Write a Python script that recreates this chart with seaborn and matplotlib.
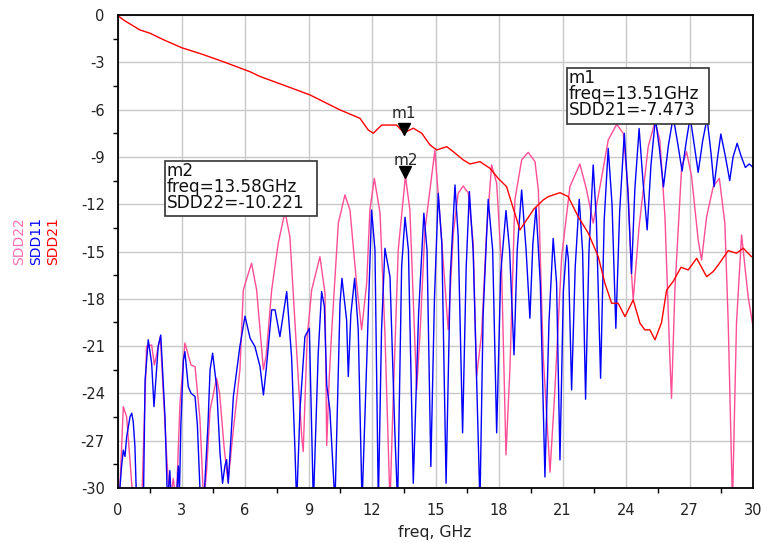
import numpy as np
import pandas as pd
import matplotlib
matplotlib.use("Agg")
import matplotlib.pyplot as plt
import seaborn as sns
from matplotlib.transforms import offset_copy
from matplotlib.ticker import MultipleLocator
from matplotlib.patches import Rectangle

# ==========================
# Data (freq in GHz, value in dB)
# ==========================
f21 = [0.0, 0.3, 1.04, 1.5, 2.2, 3.0, 4.0, 4.97, 6.24, 6.71, 7.81, 9.07, 10.49,
       11.43, 11.82, 12.06, 12.46, 13.16, 13.51, 13.95, 14.35, 14.74, 15.05,
       15.53, 15.84, 16.31, 16.63, 17.10, 17.57, 17.96, 18.36, 18.52, 18.99,
       19.65, 20.09, 20.33, 20.88, 21.27, 21.74, 22.22, 22.69, 23.0, 23.32,
       23.63, 23.95, 24.34, 24.66, 24.89, 25.13, 25.37, 25.68, 25.92, 26.23,
       26.6, 26.94, 27.34, 27.81, 28.12, 28.36, 28.83, 29.22, 29.54, 29.93]
sdd21 = [-0.05, -0.35, -0.95, -1.15, -1.6, -2.07, -2.5, -2.96, -3.6, -3.9,
         -4.44, -5.07, -6.02, -6.55, -7.29, -7.5, -6.98, -6.98, -7.47, -7.18,
         -7.5, -8.24, -8.56, -8.35, -8.67, -9.19, -9.45, -9.30, -9.72, -10.36,
         -10.89, -11.6, -13.63, -12.3, -11.73, -11.52, -11.27, -11.52, -12.79,
         -13.84, -15.33, -17.0, -18.28, -18.28, -19.13, -18.07, -19.55, -19.97,
         -19.97, -20.6, -19.5, -17.44, -16.9, -16.0, -16.17, -15.43, -16.6,
         -16.27, -15.85, -14.94, -15.11, -14.79, -15.33]

f22 = [0.0, 0.09, 0.25, 0.41, 0.72, 1.12, 1.35, 1.59, 1.72, 2.0, 2.3, 2.45,
       2.61, 2.75, 2.93, 3.16, 3.45, 3.64, 3.87, 4.05, 4.19, 4.35, 4.66, 4.8,
       5.01, 5.13, 5.2, 5.45, 5.76, 5.92, 6.16, 6.31, 6.55, 6.79, 6.87, 7.0,
       7.26, 7.57, 7.89, 8.12, 8.44, 8.68, 8.75, 8.94, 9.15, 9.54, 9.78, 9.86,
       9.98, 10.09, 10.41, 10.72, 10.96, 11.27, 11.51, 11.75, 11.9, 12.11,
       12.38, 12.61, 12.85, 13.0, 13.24, 13.58, 13.79, 14.11, 14.27, 14.5,
       14.97, 15.21, 15.6, 15.84, 16.07, 16.31, 16.55, 16.78, 16.94, 17.18,
       17.41, 17.65, 17.89, 18.12, 18.33, 18.52, 18.75, 19.07, 19.38, 19.7,
       19.86, 20.09, 20.41, 20.64, 20.96, 21.35, 21.82, 22.14, 22.45, 22.77,
       23.16, 23.56, 23.87, 24.1, 24.26, 24.34, 24.62, 25.05, 25.37, 25.6,
       25.84, 26.07, 26.15, 26.31, 26.63, 26.86, 27.1, 27.41, 27.57, 27.81,
       28.12, 28.41, 28.67, 28.83, 29.03, 29.22, 29.46, 29.62, 29.77, 30.0]
sdd22 = [-31, -30, -24.84, -25.5, -31, -31, -21.0, -20.93, -22.2, -20.4, -28,
         -31, -29.4, -31, -24.6, -20.8, -22.2, -22.3, -25.6, -31, -28.85,
         -25.05, -23.04, -24.0, -27.37, -28.85, -29.6, -26.3, -22.5, -17.44,
         -16.38, -15.75, -17.44, -21.24, -22.5, -21.6, -17.44, -14.48, -12.47,
         -14.06, -21.24, -26.74, -27.69, -20.4, -17.44, -15.33, -17.65, -27.3,
         -23.0, -20.2, -13.2, -11.41, -12.37, -17.0, -19.97, -17.0, -12.37,
         -10.36, -12.57, -20.18, -31, -24.4, -14.9, -10.22, -12.37, -23.78,
         -20.18, -13.63, -8.6, -12.79, -19.97, -13.84, -11.31, -10.84, -11.3,
         -14.48, -22.93, -20.18, -13.84, -9.51, -10.67, -15.96, -27.9, -22.3,
         -11.73, -9.19, -8.71, -9.3, -11.1, -21.67, -29.0, -23.78, -15.33,
         -10.89, -9.45, -11.1, -13.2, -10.89, -7.93, -6.93, -7.5, -11.1,
         -16.38, -18.07, -13.4, -8.35, -6.76, -7.93, -12.79, -21.67, -24.31,
         -17.44, -9.62, -8.67, -10.25, -14.27, -15.54, -12.79, -10.89, -10.36,
         -13.2, -19.55, -31, -19.55, -13.95, -16.0, -17.86, -19.76]

f11 = [0.05, 0.09, 0.17, 0.25, 0.33, 0.41, 0.57, 0.65, 0.72, 0.8, 0.88, 1.2,
       1.28, 1.43, 1.59, 1.7, 1.9, 2.02, 2.22, 2.34, 2.45, 2.52, 2.75, 2.85,
       2.9, 2.97, 3.09, 3.16, 3.32, 3.45, 3.64, 3.75, 3.9, 4.05, 4.25, 4.35,
       4.47, 4.66, 4.82, 4.94, 5.05, 5.13, 5.21, 5.45, 5.76, 6.0, 6.24, 6.47,
       6.71, 6.87, 7.0, 7.26, 7.42, 7.65, 7.97, 8.2, 8.36, 8.44, 8.6, 8.83,
       9.04, 9.23, 9.46, 9.62, 9.75, 9.86, 10.01, 10.25, 10.49, 10.58, 10.8,
       10.88, 11.0, 11.18, 11.35, 11.53, 11.75, 11.98, 12.14, 12.3, 12.45,
       12.61, 12.85, 13.08, 13.21, 13.4, 13.56, 13.72, 13.95, 14.2, 14.45,
       14.6, 14.78, 14.95, 15.13, 15.3, 15.5, 15.7, 15.92, 16.07, 16.28,
       16.45, 16.6, 16.78, 17.1, 17.25, 17.49, 17.7, 17.89, 18.08, 18.33,
       18.5, 18.71, 18.86, 19.07, 19.28, 19.46, 19.6, 19.75, 19.95, 20.17,
       20.36, 20.56, 20.72, 20.88, 21.04, 21.2, 21.28, 21.43, 21.6, 21.79,
       21.95, 22.09, 22.25, 22.45, 22.6, 22.8, 22.97, 23.16, 23.34, 23.52,
       23.7, 23.92, 24.1, 24.26, 24.42, 24.62, 24.8, 25.0, 25.18, 25.39,
       25.58, 25.77, 26.0, 26.23, 26.45, 26.65, 26.85, 27.03, 27.22, 27.41,
       27.62, 27.83, 28.02, 28.16, 28.33, 28.48, 28.7, 28.9, 29.06, 29.25,
       29.45, 29.64, 29.82, 30.0]
sdd11 = [-31, -30, -28.6, -27.6, -28.0, -26.74, -25.47, -25.26, -25.8, -27.37,
         -31, -31, -23.15, -20.6, -22.1, -24.84, -21.0, -20.3, -25.5, -31,
         -28.9, -31, -31, -28.6, -30.5, -26.0, -21.88, -21.35, -23.57, -23.99,
         -24.2, -26.0, -31, -31, -26.0, -22.5, -21.45, -23.57, -27.8, -29.7,
         -28.6, -28.2, -29.7, -24.2, -21.0, -19.1, -20.5, -21.03, -22.3, -24.1,
         -22.5, -18.7, -18.7, -20.4, -17.54, -21.67, -27.58, -31, -25.0, -20.4,
         -19.87, -31, -21.45, -17.54, -18.5, -23.46, -25.05, -31, -18.28, -16.7,
         -19.34, -22.93, -19.0, -16.7, -19.97, -31, -22.0, -12.37, -14.9, -31,
         -20.0, -14.8, -16.6, -26.5, -31, -15.96, -12.83, -14.9, -29.7, -19.0,
         -12.57, -14.9, -28.64, -18.0, -11.31, -14.5, -29.7, -16.5, -10.78,
         -14.0, -26.5, -16.0, -11.2, -15.0, -31, -19.0, -11.69, -14.9, -26.5,
         -16.4, -12.4, -14.9, -21.56, -14.9, -11.1, -14.9, -19.23, -14.5,
         -12.2, -17.0, -29.3, -19.5, -14.17, -17.0, -28.22, -17.5, -14.6,
         -15.5, -23.78, -16.0, -11.69, -15.0, -24.37, -15.0, -9.51, -13.0,
         -23.04, -13.0, -8.46, -12.0, -19.87, -12.5, -7.5, -11.5, -16.4, -11.0,
         -7.2, -10.5, -13.63, -9.5, -6.55, -8.5, -10.9, -8.3, -6.45, -8.2,
         -9.9, -8.0, -6.47, -8.2, -9.98, -8.0, -6.55, -8.8, -10.89, -9.0,
         -7.55, -9.0, -10.5, -9.0, -8.14, -9.0, -9.67, -9.45, -9.66]

m1_f, m1_v = 13.51, -7.473
m2_f, m2_v = 13.58, -10.221

pink = "#ff4d96"
blue = "#0000ff"
red = "#ff0000"

W, H = 763, 543

def fx(px):
    return px / W

def fy(py):
    return 1 - py / H

# ==========================
# Figure
# ==========================
sns.set_style("whitegrid")
plt.rcParams["font.family"] = ["DejaVu Sans"]

fig = plt.figure(figsize=(W / 100, H / 100), dpi=100)
ax = fig.add_axes([fx(118), fy(488), fx(753) - fx(118), fy(15) - fy(488)])

sns.lineplot(x=f22, y=sdd22, color=pink, lw=1.0, sort=False, estimator=None, ax=ax)
sns.lineplot(x=f11, y=sdd11, color=blue, lw=1.0, sort=False, estimator=None, ax=ax)
sns.lineplot(x=f21, y=sdd21, color=red, lw=1.0, sort=False, estimator=None, ax=ax)

ax.set_xlim(0, 30)
ax.set_ylim(-30, 0)
ax.xaxis.set_major_locator(MultipleLocator(3))
ax.xaxis.set_minor_locator(MultipleLocator(1.5))
ax.yaxis.set_major_locator(MultipleLocator(3))
ax.yaxis.set_minor_locator(MultipleLocator(1.5))
ax.grid(True, which="major", color="#c8c8c8", lw=1.0)
ax.grid(False, which="minor")
for s in ax.spines.values():
    s.set_color("black")
    s.set_linewidth(1.3)
ax.tick_params(axis="y", which="major", direction="out", length=7.5, width=1,
               color="black", labelsize=10.5, pad=2, labelcolor="#222222")
ax.tick_params(axis="y", which="minor", direction="out", length=3.5, width=1,
               color="black", left=True)
ax.tick_params(axis="x", which="major", length=0, labelsize=10.5, pad=11,
               labelcolor="#222222")
ax.tick_params(axis="x", which="minor", direction="out", length=3.5, width=1,
               color="black", bottom=True)
ax.set_xticks(np.arange(0, 31, 3))
ax.set_xticklabels([str(v) for v in range(0, 31, 3)])
ax.set_yticks(np.arange(-30, 1, 3))
ax.set_yticklabels([str(v) for v in range(-30, 1, 3)])
ax.set_xlabel("")
ax.set_ylabel("")

# markers
tr = offset_copy(ax.transData, fig=fig, x=0, y=4, units="dots")
ax.plot([m1_f], [m1_v], marker="v", ms=8, color="black", transform=tr, clip_on=False)
ax.plot([m2_f], [m2_v], marker="v", ms=8, color="black", transform=tr, clip_on=False)
ax.annotate("m1", xy=(m1_f, m1_v), xytext=(0, 15), textcoords="offset pixels",
            ha="center", va="baseline", fontsize=11)
ax.annotate("m2", xy=(m2_f, m2_v), xytext=(0, 11), textcoords="offset pixels",
            ha="center", va="baseline", fontsize=11)

# marker readout boxes
def readout(x0, y0, x1, y1, lines):
    fig.patches.append(Rectangle((fx(x0), fy(y1)), fx(x1) - fx(x0), fy(y0) - fy(y1),
                                 transform=fig.transFigure, fill=True, fc="white",
                                 ec="#333333", lw=1.2, zorder=5))
    fig.text(fx(x0 + 2), fy(y0 + 1), "\n".join(lines), fontsize=12.2, va="top",
             ha="left", color="#111111", linespacing=0.86, zorder=6)

readout(165, 161, 317, 216,
        ["m2", "freq=%.2fGHz" % m2_f, "SDD22=%.3f" % m2_v])
readout(567, 68, 709, 124,
        ["m1", "freq=%.2fGHz" % m1_f, "SDD21=%.3f" % m1_v])

# axis label and trace names
fig.text(fx(435), fy(533), "freq, GHz", fontsize=11.3, ha="center", va="center",
         color="#222222")
for name, col, xp in [("SDD22", "#ff6eb4", 19), ("SDD11", blue, 36), ("SDD21", red, 53)]:
    fig.text(fx(xp), fy(265), name, rotation=90, color=col, ha="center", va="bottom",
             fontsize=10, family=["Liberation Sans Narrow", "DejaVu Sans"])

fig.savefig("out.png", dpi=100)
